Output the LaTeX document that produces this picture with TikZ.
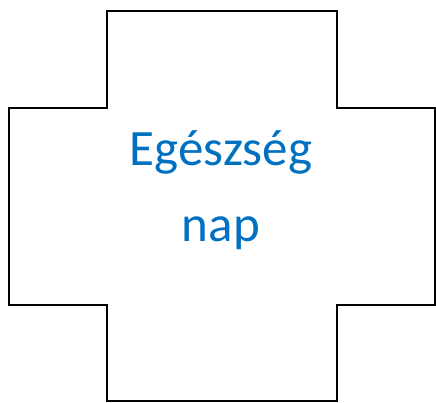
\documentclass[tikz,border=0pt]{standalone}
\usepackage{fontspec}
\setmainfont{Carlito}
\usepackage{tikz}
\definecolor{healthblue}{RGB}{0,112,192}

\begin{document}
\begin{tikzpicture}[x=1pt, y=-1pt,
    crossline/.style={draw=black, line width=1.4pt, line join=miter},
    label/.style={font=\fontsize{51}{76}\selectfont, text=healthblue, align=center, inner sep=0pt}]
    \useasboundingbox (0,0) rectangle (436,403);
    % Cross outline
    \draw[crossline] (107,11) -- (337,11) -- (337,108) -- (435,108) -- (435,305)
        -- (337,305) -- (337,401) -- (107,401) -- (107,305) -- (9,305)
        -- (9,108) -- (107,108) -- cycle;
    % Title
    \node[label, anchor=base] (title) at (221,166) {Egészség};
    \node[label, anchor=base] (sub) at (221,242) {nap};
\end{tikzpicture}
\end{document}
